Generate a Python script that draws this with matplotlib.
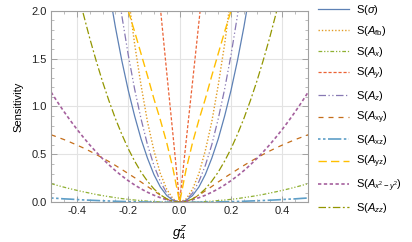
import matplotlib
matplotlib.use("Agg")
import matplotlib.pyplot as plt
import numpy as np

plt.rcParams["font.family"] = "Liberation Sans"
plt.rcParams["mathtext.fontset"] = "custom"
plt.rcParams["mathtext.rm"] = "Liberation Sans"
plt.rcParams["mathtext.it"] = "Liberation Sans:italic"
plt.rcParams["mathtext.bf"] = "Liberation Sans:bold"

NA = np.nan

# sampled coupling values g4^Z
g4z = [-0.5, -0.475, -0.45, -0.425, -0.4, -0.375, -0.35, -0.325, -0.3, -0.275,
       -0.25, -0.225, -0.2, -0.175, -0.15, -0.125, -0.1, -0.075, -0.05, -0.025,
       0.0,
       0.025, 0.05, 0.075, 0.1, 0.125, 0.15, 0.175, 0.2, 0.225, 0.25,
       0.275, 0.3, 0.325, 0.35, 0.375, 0.4, 0.425, 0.45, 0.475, 0.5]

# sensitivities (NA = off the top of the plot)
s_sigma = [NA, NA, NA, NA, NA, NA, NA, NA, NA, 2.22,
           1.83, 1.48, 1.17, 0.90, 0.66, 0.46, 0.29, 0.16, 0.07, 0.02,
           0.0,
           0.02, 0.07, 0.16, 0.29, 0.46, 0.66, 0.90, 1.17, 1.48, 1.83,
           2.22, NA, NA, NA, NA, NA, NA, NA, NA, NA]
s_afb = [NA, NA, NA, NA, NA, NA, NA, NA, NA, NA,
         NA, NA, 2.16, 1.65, 1.22, 0.84, 0.54, 0.30, 0.135, 0.034,
         0.0,
         0.034, 0.135, 0.30, 0.54, 0.84, 1.22, 1.65, 2.16, NA, NA,
         NA, NA, NA, NA, NA, NA, NA, NA, NA, NA]
s_ax = [0.195, 0.176, 0.158, 0.141, 0.125, 0.110, 0.096, 0.082, 0.070, 0.059,
        0.049, 0.039, 0.031, 0.024, 0.018, 0.012, 0.008, 0.004, 0.002, 0.0005,
        0.0,
        0.0005, 0.002, 0.004, 0.008, 0.012, 0.018, 0.024, 0.031, 0.039, 0.049,
        0.059, 0.070, 0.082, 0.096, 0.110, 0.125, 0.141, 0.158, 0.176, 0.195]
s_ay = [NA, NA, NA, NA, NA, NA, NA, NA, NA, NA,
        NA, NA, NA, NA, NA, NA, NA, 2.03, 1.35, 0.68,
        0.0,
        0.63, 1.25, 1.88, 2.5, NA, NA, NA, NA, NA, NA,
        NA, NA, NA, NA, NA, NA, NA, NA, NA, NA]
s_az = [NA, NA, NA, NA, NA, NA, NA, NA, NA, NA,
        2.41, 1.95, 1.54, 1.18, 0.87, 0.60, 0.385, 0.217, 0.096, 0.024,
        0.0,
        0.024, 0.096, 0.217, 0.385, 0.60, 0.87, 1.18, 1.54, 1.95, 2.41,
        NA, NA, NA, NA, NA, NA, NA, NA, NA, NA]
s_axy = [0.705, 0.68, 0.655, 0.627, 0.598, 0.568, 0.535, 0.50, 0.463, 0.425,
         0.385, 0.343, 0.30, 0.257, 0.212, 0.165, 0.12, 0.075, 0.035, 0.01,
         0.0,
         0.01, 0.035, 0.075, 0.12, 0.165, 0.212, 0.257, 0.30, 0.343, 0.385,
         0.425, 0.463, 0.50, 0.535, 0.568, 0.598, 0.627, 0.655, 0.68, 0.705]
s_axz = [0.045, 0.041, 0.036, 0.033, 0.029, 0.025, 0.022, 0.019, 0.016, 0.014,
         0.011, 0.009, 0.007, 0.006, 0.004, 0.003, 0.002, 0.001, 0.0005, 0.0001,
         0.0,
         0.0001, 0.0005, 0.001, 0.002, 0.003, 0.004, 0.006, 0.007, 0.009, 0.011,
         0.014, 0.016, 0.019, 0.022, 0.025, 0.029, 0.033, 0.036, 0.041, 0.045]
s_ayz = [NA, NA, NA, NA, NA, NA, NA, NA, NA, NA,
         NA, 2.22, 2.0, 1.78, 1.55, 1.32, 1.08, 0.86, 0.62, 0.34,
         0.0,
         0.34, 0.62, 0.86, 1.08, 1.32, 1.55, 1.78, 2.0, 2.22, NA,
         NA, NA, NA, NA, NA, NA, NA, NA, NA, NA]
s_ax2y2 = [1.15, 1.046, 0.947, 0.853, 0.764, 0.680, 0.600, 0.526, 0.456, 0.391,
           0.331, 0.276, 0.226, 0.181, 0.140, 0.105, 0.074, 0.048, 0.027, 0.011,
           0.0,
           0.011, 0.027, 0.048, 0.074, 0.105, 0.140, 0.181, 0.226, 0.276, 0.331,
           0.391, 0.456, 0.526, 0.600, 0.680, 0.764, 0.853, 0.947, 1.046, 1.15]
s_azz = [NA, NA, NA, NA, 2.24, 1.97, 1.715, 1.48, 1.26, 1.06,
         0.875, 0.71, 0.56, 0.43, 0.315, 0.22, 0.14, 0.079, 0.035, 0.009,
         0.0,
         0.009, 0.035, 0.079, 0.14, 0.22, 0.315, 0.43, 0.56, 0.71, 0.875,
         1.06, 1.26, 1.48, 1.715, 1.97, 2.24, NA, NA, NA, NA]

labels = [r"S($\sigma$)", r"S($A_{\rm fb}$)", r"S($A_x$)", r"S($A_y$)",
          r"S($A_z$)", r"S($A_{\rm xy}$)", r"S($A_{\rm xz}$)", r"S($A_{\rm yz}$)",
          r"S($A_{x^2-y^2}$)", r"S($A_{zz}$)"]
series = [s_sigma, s_afb, s_ax, s_ay, s_az, s_axy, s_axz, s_ayz, s_ax2y2, s_azz]

colours = ["#5E81B5", "#E19C24", "#8FB032", "#EB6235", "#8778B3",
           "#C56E1A", "#5D9EC7", "#FFBF00", "#A5609D", "#929600"]
styles = ["-", (0, (1, 1.4)), (0, (3, 1.5, 1, 1.5, 1, 1.5)), (0, (2.5, 1.5)),
          (0, (6, 2, 1, 2, 1, 2)), (0, (4, 4)), (0, (1.5, 1.5, 1.5, 1.5, 8, 1.5)),
          (0, (6, 3)), (0, (2, 1.5)), (0, (6, 2, 1.5, 2))]
widths = [0.9, 1.0, 0.9, 0.9, 0.9, 0.9, 1.2, 1.0, 1.2, 0.9]

frame_col = "#A0A0A0"

fig = plt.figure(figsize=(4.12, 2.42), dpi=100)
ax = fig.add_axes([0.124, 0.164, 0.624, 0.792])

for vals, lab, col, ls, lw in zip(series, labels, colours, styles, widths):
    ax.plot(g4z, vals, color=col, linestyle=ls, lw=lw, label=lab)

ax.set_xlim(-0.5, 0.5)
ax.set_ylim(0, 2)
ax.set_xticks([-0.4, -0.2, 0.0, 0.2, 0.4])
ax.set_xticks(np.arange(-0.5, 0.51, 0.05), minor=True)
ax.set_yticks([0.0, 0.5, 1.0, 1.5, 2.0])
ax.set_yticks(np.arange(0, 2.01, 0.1), minor=True)
ax.xaxis.set_major_formatter(plt.FormatStrFormatter("%.1f"))
ax.yaxis.set_major_formatter(plt.FormatStrFormatter("%.1f"))
ax.grid(True, which="major", color="#E3E3E3", lw=0.8)
ax.set_axisbelow(True)
for sp in ax.spines.values():
    sp.set_color(frame_col)
    sp.set_linewidth(0.8)
ax.tick_params(which="both", direction="in", top=True, right=True,
               color=frame_col, labelsize=8, labelcolor="#222222", pad=3)
ax.tick_params(which="major", length=4, width=0.7)
ax.tick_params(which="minor", length=2, width=0.5)

ax.set_xlabel(r"$g_4^Z$", fontsize=9.5, labelpad=5)
ax.set_ylabel("Sensitivity", fontsize=8, labelpad=6)

ax.legend(loc="upper left", bbox_to_anchor=(318 / 412, 1 - 3 / 242),
          bbox_transform=fig.transFigure, frameon=False, fontsize=8,
          borderpad=0, borderaxespad=0, handlelength=2.8, handletextpad=0.6,
          labelspacing=0.62)

fig.savefig("out.png", dpi=100)
